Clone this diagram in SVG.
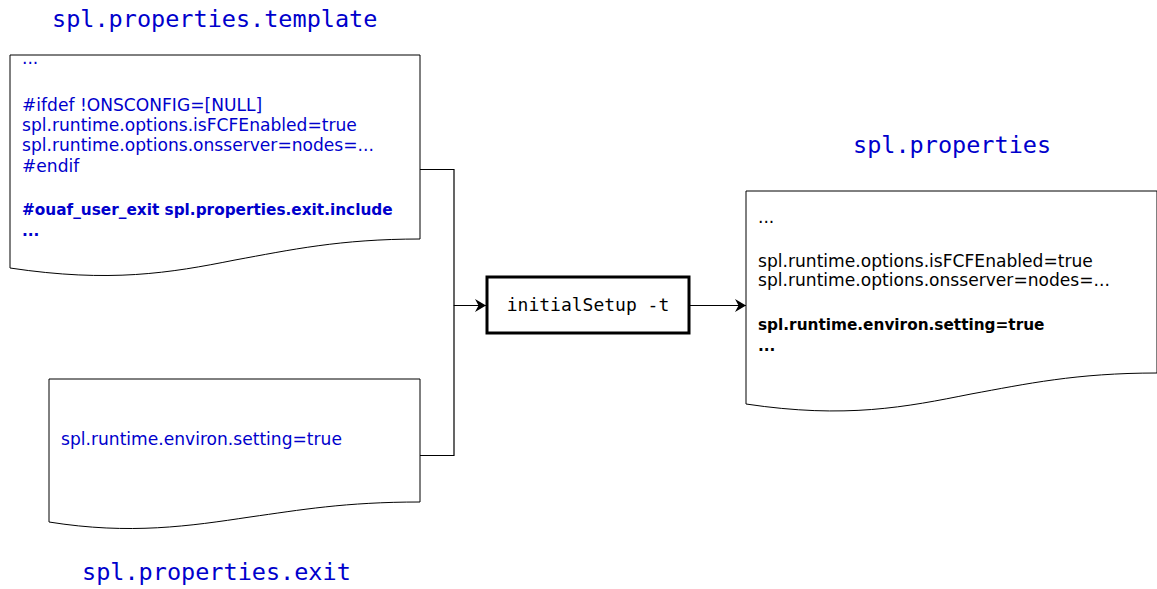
<svg xmlns="http://www.w3.org/2000/svg" width="1157" height="589" viewBox="0 0 1157 589">
<style>
.doc{fill:#fff;stroke:#000;stroke-width:1}
.title{font-family:"DejaVu Sans Mono",monospace;font-size:23.5px;fill:#0000cc}
.body{font-family:"DejaVu Sans","Liberation Sans",sans-serif;font-size:17.1px}
.blue{fill:#0000cc}
.blk{fill:#000}
.b{font-weight:bold;font-size:15.3px}
.conn{fill:none;stroke:#000;stroke-width:1.2}
.proc{fill:#fff;stroke:#000;stroke-width:3}
.ptext{font-family:"DejaVu Sans Mono",monospace;font-size:18px;fill:#000}
</style>
<defs>
<marker id="arr" markerWidth="13" markerHeight="14" refX="11" refY="7" orient="auto" markerUnits="userSpaceOnUse">
<path d="M0,0.5 L11,7 L0,13.5 L3.5,7 Z" fill="#000"/>
</marker>
</defs>
<rect width="1157" height="589" fill="#fff"/>
<g id="connectors">
<path class="conn" d="M420,169.5 H454 V305.5 H486" marker-end="url(#arr)"/>
<path class="conn" d="M420,455.5 H454 V305.5"/>
<path class="conn" d="M689,305.5 H746" marker-end="url(#arr)"/>
</g>
<g id="template">
<text class="title" x="52" y="27">spl.properties.template</text>
<path class="doc" d="M10,55 H420 V239 C340,239 290,250 235,260 C170,273 110,283 10,268 Z"/>
<text class="body blue" x="22" y="64">...</text>
<text class="body blue" x="22" y="111">#ifdef !ONSCONFIG=[NULL]</text>
<text class="body blue" x="22" y="131">spl.runtime.options.isFCFEnabled=true</text>
<text class="body blue" x="22" y="151">spl.runtime.options.onsserver=nodes=...</text>
<text class="body blue" x="22" y="172">#endif</text>
<text class="body blue b" x="22" y="215">#ouaf_user_exit spl.properties.exit.include</text>
<text class="body blue b" x="22" y="236">...</text>
</g>
<g id="exit">
<path class="doc" d="M49,379 H420 V502 C345,502 300,510 250,517 C190,526 130,535 49,522 Z"/>
<text class="body blue" x="61" y="445">spl.runtime.environ.setting=true</text>
<text class="title" x="82" y="580">spl.properties.exit</text>
</g>
<g id="process">
<rect class="proc" x="487" y="277" width="202" height="56"/>
<text class="ptext" x="588" y="311" text-anchor="middle">initialSetup -t</text>
</g>
<g id="output">
<text class="title" x="853" y="153">spl.properties</text>
<path class="doc" d="M746,191 H1157 V373 C1076,373 1026,384 971,394 C906,407 846,419 746,404 Z"/>
<text class="body blk" x="758" y="223">...</text>
<text class="body blk" x="758" y="267">spl.runtime.options.isFCFEnabled=true</text>
<text class="body blk" x="758" y="286">spl.runtime.options.onsserver=nodes=...</text>
<text class="body blk b" x="758" y="330">spl.runtime.environ.setting=true</text>
<text class="body blk b" x="758" y="351">...</text>
</g>
</svg>
